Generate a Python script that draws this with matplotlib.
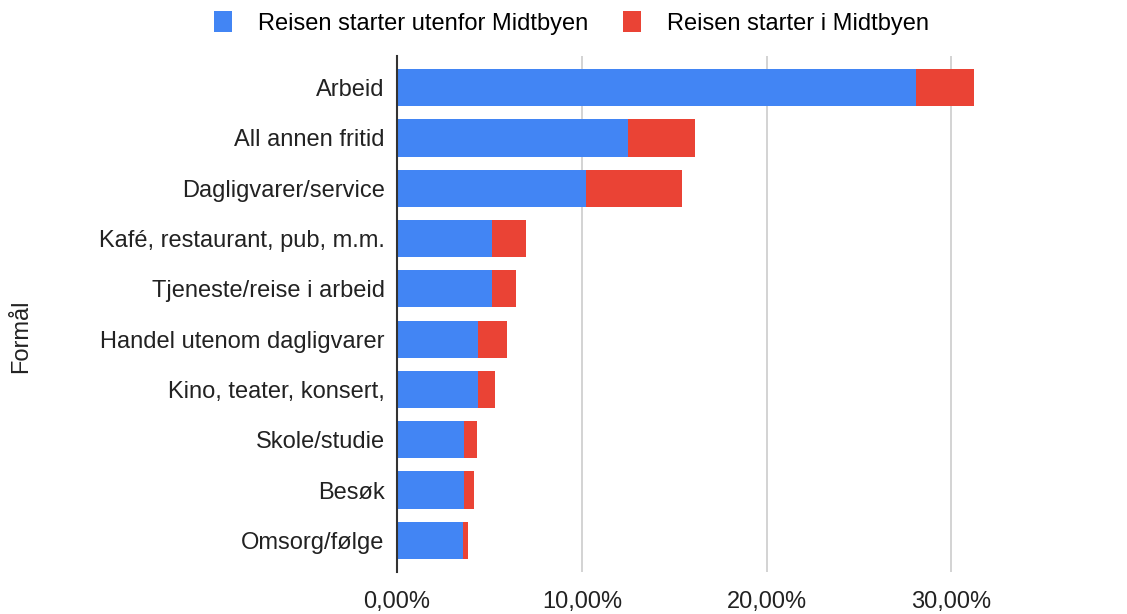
import matplotlib.pyplot as plt
from matplotlib.ticker import FuncFormatter
from matplotlib.patches import Patch

plt.rcParams['font.family'] = ['Liberation Sans', 'DejaVu Sans']

# -------------------------------------------
# Data (share of trips, percent)
# -------------------------------------------
categories = ["Arbeid", "All annen fritid", "Dagligvarer/service",
              "Kafé, restaurant, pub, m.m.", "Tjeneste/reise i arbeid",
              "Handel utenom dagligvarer", "Kino, teater, konsert,",
              "Skole/studie", "Besøk", "Omsorg/følge"]
utenfor = [28.1, 12.5, 10.2, 5.15, 5.15, 4.4, 4.4, 3.6, 3.6, 3.55]
i_midtbyen = [3.1, 3.6, 5.2, 1.85, 1.3, 1.55, 0.9, 0.75, 0.55, 0.3]
xticks = [0, 10, 20, 30]

blue = "#4285F4"
red = "#EA4335"

fig = plt.figure(figsize=(11.27, 6.14), dpi=100)
ax = fig.add_axes([0.3523, 0.0684, 0.6477, 0.8404])

ypos = list(range(len(categories)))
ax.barh(ypos, utenfor, height=0.74, color=blue, zorder=3)
ax.barh(ypos, i_midtbyen, left=utenfor, height=0.74, color=red, zorder=3)

ax.set_ylim(len(categories) - 1 + 0.63, -0.63)
ax.set_xlim(0, 39.5)
ax.set_yticks(ypos)
ax.set_yticklabels(categories, fontsize=17, color="#222222")
ax.set_xticks(xticks)
ax.xaxis.set_major_formatter(FuncFormatter(lambda v, p: f"{v:.2f}%".replace(".", ",")))
ax.tick_params(axis="x", length=0, pad=14, labelsize=17, labelcolor="#222222")
ax.tick_params(axis="y", length=0, pad=9)
ax.grid(axis="x", color="#cccccc", linewidth=1.2, zorder=0)

for side in ["top", "right", "bottom"]:
    ax.spines[side].set_visible(False)
ax.spines["left"].set_color("#333333")
ax.spines["left"].set_linewidth(1.5)
ax.spines["left"].set_zorder(4)

fig.text(0.019, 0.453, "Formål", rotation=90, ha="center", va="center",
         fontsize=17, color="#222222")

handles = [Patch(facecolor=blue, label="Reisen starter utenfor Midtbyen"),
           Patch(facecolor=red, label="Reisen starter i Midtbyen")]
fig.legend(handles=handles, loc="center", bbox_to_anchor=(0.507, 0.963), ncol=2,
           frameon=False, fontsize=17, handlelength=0.75, handleheight=1.0,
           handletextpad=1.1, columnspacing=1.5)

fig.savefig("out.png", dpi=100)
